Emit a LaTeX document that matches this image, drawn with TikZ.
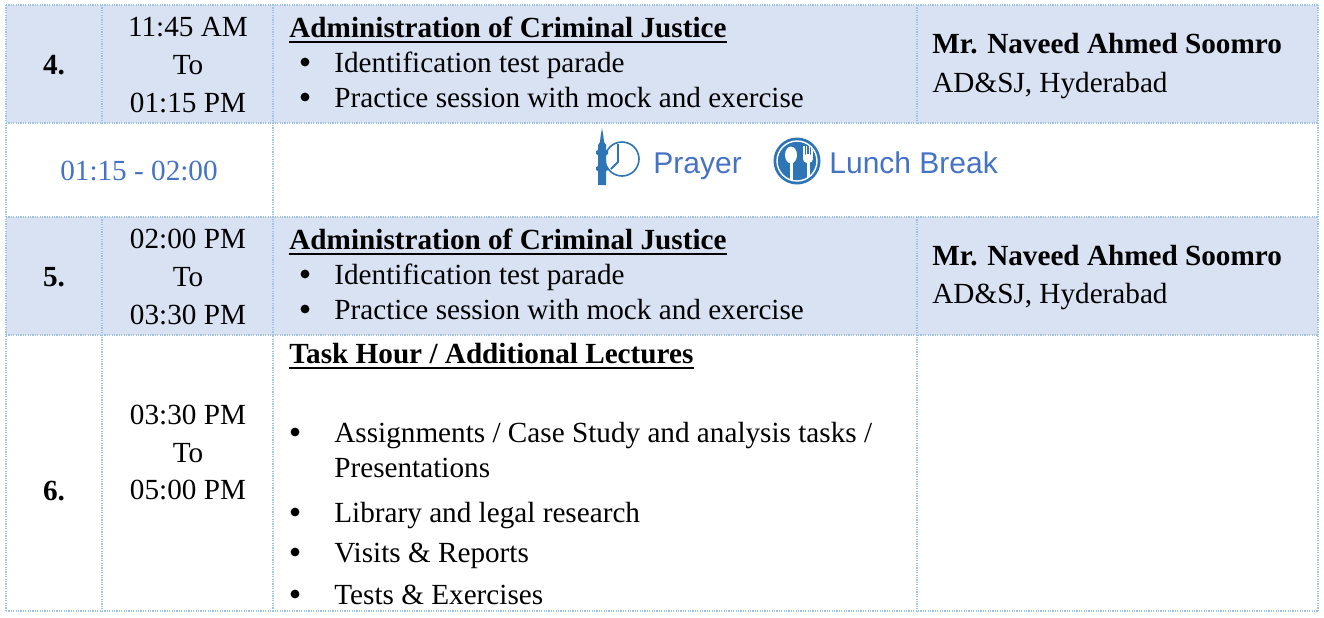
\documentclass[tikz,border=0pt]{standalone}
\usepackage{fontspec}
\setmainfont{Liberation Serif}
\newfontfamily\iconfont{Liberation Sans}
\usepackage{xcolor}
\usetikzlibrary{positioning,calc}
\definecolor{rowfill}{HTML}{D9E2F3}
\definecolor{gridblue}{HTML}{9DC3E6}
\definecolor{breakblue}{HTML}{4472C4}
\definecolor{iconblue}{HTML}{2E75B6}
\tikzstyle{grid}=[draw=gridblue, line width=0.6pt, dash pattern=on 0.6pt off 0.6pt]
\tikzstyle{txt}=[inner sep=0pt, font=\fontsize{14.6}{19}\selectfont]
\tikzstyle{hd}=[inner sep=0pt, font=\fontsize{14.6}{19}\selectfont\bfseries]
\tikzstyle{ul}=[line width=1pt]
\tikzstyle{dot}=[circle, fill=black, inner sep=0pt, minimum size=4.4pt]
\tikzstyle{brk}=[inner sep=0pt, text=breakblue, font=\iconfont\fontsize{15}{18}\selectfont]

\begin{document}
\begin{tikzpicture}[x=0.5pt, y=-0.5pt]

\useasboundingbox (0,0) rectangle (1324,617);

% shaded rows
\fill[rowfill] (6,5) rectangle (1318,123);
\fill[rowfill] (6,217) rectangle (1318,335);

% grid
\draw[grid] (6,5) -- (1318,5);
\draw[grid] (6,123) -- (1318,123);
\draw[grid] (6,217) -- (1318,217);
\draw[grid] (6,335) -- (1318,335);
\draw[grid] (6,611) -- (1318,611);
\draw[grid] (6,5) -- (6,611);
\draw[grid] (1318,5) -- (1318,611);
\draw[grid] (102,5) -- (102,123); \draw[grid] (102,217) -- (102,611);
\draw[grid] (273,5) -- (273,611);
\draw[grid] (917,5) -- (917,123); \draw[grid] (917,217) -- (917,611);

% row 4
\node[hd, anchor=base] (n4) at (54,74) {4.};
\node[txt, anchor=base] (t4a) at (188,36) {11:45 AM};
\node[txt, anchor=base] (t4b) at (188,74) {To};
\node[txt, anchor=base] (t4c) at (188,112) {01:15 PM};
\node[hd, anchor=base west] (h4) at (289,37) {Administration of Criminal Justice};
\draw[ul] ([yshift=-2.5pt]h4.base west) -- ([yshift=-2.5pt]h4.base east);
\node[dot] (b4a) at (305,62) {};
\node[txt, anchor=base west] (i4a) at (334,72) {Identification test parade};
\node[dot] (b4b) at (305,97) {};
\node[txt, anchor=base west] (i4b) at (334,107) {Practice session with mock and exercise};
\node[hd, anchor=base west] (r4a) at (932,53) {Mr. Naveed Ahmed Soomro};
\node[txt, anchor=base west] (r4b) at (932,92) {AD\&SJ, Hyderabad};

% break
\node[txt, anchor=base, text=breakblue] (brk) at (139,180) {01:15 - 02:00};
% prayer icon
\draw[iconblue, line width=0.8pt] (622,159) circle (17);
\draw[iconblue, line width=0.9pt] (618,144) -- (618,162) -- (611,169);
\fill[iconblue] (602,128) -- (603.5,137) -- (604,142) -- (606,145) -- (606,150) -- (608,151)
  -- (608,154) -- (606,155) -- (606,166) -- (608,167) -- (608,170) -- (606,171) -- (606,185)
  -- (598,185) -- (598,171) -- (596,170) -- (596,167) -- (598,166) -- (598,155) -- (596,154)
  -- (596,151) -- (598,150) -- (598,145) -- (600,142) -- (600.5,137) -- cycle;
\node[brk, anchor=base west] (pray) at (653,173) {Prayer};
% lunch icon
\fill[iconblue] (797,161) circle (23.5);
\draw[white, line width=0.7pt] (797,161) circle (20);
\begin{scope}
\clip (797,161) circle (19.5);
\fill[white] (791,155) ellipse (6 and 8.5);
\fill[white] (789.5,160) rectangle (792.5,185);
\fill[white] (803,146) rectangle (804.5,157);
\fill[white] (805.8,146) rectangle (807.3,157);
\fill[white] (808.6,146) rectangle (810.1,157);
\fill[white] (811.4,146) rectangle (812.9,157);
\fill[white, rounded corners=2pt] (803,154) rectangle (812.9,163);
\fill[white] (806.5,160) rectangle (809.5,185);
\end{scope}
\node[brk, anchor=base west] (lunch) at (829,173) {Lunch Break};

% row 5
\node[hd, anchor=base] (n5) at (54,286) {5.};
\node[txt, anchor=base] (t5a) at (188,248) {02:00 PM};
\node[txt, anchor=base] (t5b) at (188,286) {To};
\node[txt, anchor=base] (t5c) at (188,324) {03:30 PM};
\node[hd, anchor=base west] (h5) at (289,249) {Administration of Criminal Justice};
\draw[ul] ([yshift=-2.5pt]h5.base west) -- ([yshift=-2.5pt]h5.base east);
\node[dot] (b5a) at (305,274) {};
\node[txt, anchor=base west] (i5a) at (334,284) {Identification test parade};
\node[dot] (b5b) at (305,309) {};
\node[txt, anchor=base west] (i5b) at (334,319) {Practice session with mock and exercise};
\node[hd, anchor=base west] (r5a) at (932,265) {Mr. Naveed Ahmed Soomro};
\node[txt, anchor=base west] (r5b) at (932,303) {AD\&SJ, Hyderabad};

% row 6
\node[hd, anchor=base] (n6) at (54,500) {6.};
\node[txt, anchor=base] (t6a) at (188,424) {03:30 PM};
\node[txt, anchor=base] (t6b) at (188,462) {To};
\node[txt, anchor=base] (t6c) at (188,499) {05:00 PM};
\node[hd, anchor=base west] (h6) at (289,363) {Task Hour / Additional Lectures};
\draw[ul] ([yshift=-2.5pt]h6.base west) -- ([yshift=-2.5pt]h6.base east);
\node[dot] (b6a) at (295,432) {};
\node[txt, anchor=base west] (i6a) at (334,442) {Assignments / Case Study and analysis tasks /};
\node[txt, anchor=base west] (i6b) at (334,477) {Presentations};
\node[dot] (b6b) at (295,512) {};
\node[txt, anchor=base west] (i6c) at (334,522) {Library and legal research};
\node[dot] (b6c) at (295,552) {};
\node[txt, anchor=base west] (i6d) at (334,562) {Visits \& Reports};
\node[dot] (b6d) at (295,594) {};
\node[txt, anchor=base west] (i6e) at (334,604) {Tests \& Exercises};

\end{tikzpicture}
\end{document}
